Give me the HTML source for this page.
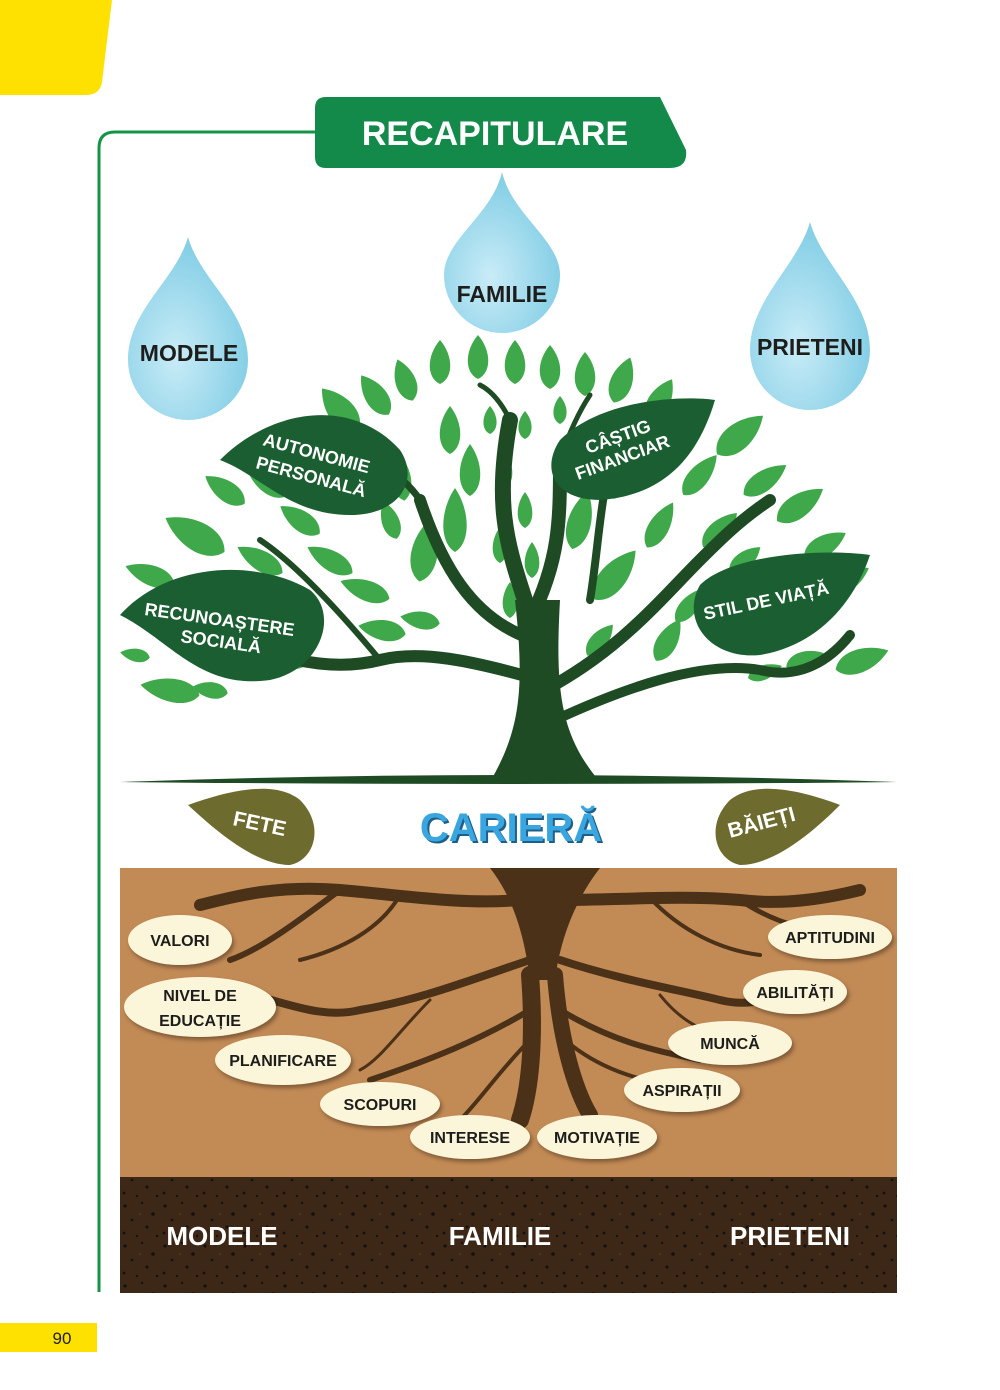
<!DOCTYPE html>
<html><head><meta charset="utf-8"><style>
html,body{margin:0;padding:0;background:#fff}
svg{display:block}
text{font-family:"Liberation Sans",sans-serif;font-weight:bold}
</style></head><body>
<svg width="1000" height="1390" viewBox="0 0 1000 1390" xmlns="http://www.w3.org/2000/svg">
<defs>
<path id="lf" d="M0,-1 C0.95,-0.3 1.0,0.7 0,1 C-1.0,0.7 -0.95,-0.3 0,-1Z"/>
<radialGradient id="drop" cx="0.4" cy="0.65" r="0.6">
<stop offset="0" stop-color="#c9ecf7"/><stop offset="1" stop-color="#86cfe6"/></radialGradient>
<pattern id="spk" width="40" height="40" patternUnits="userSpaceOnUse">
<rect width="40" height="40" fill="#3d2716"/>
<circle cx="5" cy="6" r="1.6" fill="#111"/><circle cx="22" cy="3" r="1.2" fill="#111"/><circle cx="33" cy="14" r="1.8" fill="#111"/>
<circle cx="12" cy="20" r="1.3" fill="#111"/><circle cx="27" cy="27" r="1.5" fill="#111"/><circle cx="4" cy="33" r="1.4" fill="#111"/>
<circle cx="17" cy="36" r="1.1" fill="#111"/><circle cx="37" cy="36" r="1.2" fill="#111"/><circle cx="20" cy="14" r="0.9" fill="#5a3c22"/>
</pattern>
<filter id="sh"><feDropShadow dx="2" dy="3" stdDeviation="2" flood-color="#000" flood-opacity="0.35"/></filter>
</defs>

<path d="M0,0 H112 L102,82 Q100,95 86,95 H0Z" fill="#ffe100"/>
<path d="M99,1292 V148 Q99,132 115,132 H320" fill="none" stroke="#159447" stroke-width="3"/>
<path d="M315,108 Q315,97 326,97 H660 L686,150 Q688,168 670,168 H326 Q315,168 315,157Z" fill="#138a4a"/>
<text x="495" y="145" font-size="34" fill="#fff" text-anchor="middle">RECAPITULARE</text>

<path d="M188,237 C200,280 248,310 248,360 A60,60 0 0 1 128,360 C128,310 176,280 188,237Z" fill="url(#drop)"/>
<path d="M502,172 C512,215 560,240 560,275 A58,58 0 0 1 444,275 C444,240 492,215 502,172Z" fill="url(#drop)"/>
<path d="M810,222 C822,265 870,300 870,350 A60,60 0 0 1 750,350 C750,300 798,265 810,222Z" fill="url(#drop)"/>
<text x="189" y="361" font-size="23" fill="#1d1d1b" text-anchor="middle">MODELE</text>
<text x="502" y="302" font-size="23" fill="#1d1d1b" text-anchor="middle">FAMILIE</text>
<text x="810" y="355" font-size="23" fill="#1d1d1b" text-anchor="middle">PRIETENI</text>

<g fill="#3ea84a">
<use href="#lf" transform="translate(440,362) scale(14,22)"/>
<use href="#lf" transform="translate(478,357) scale(14,22)"/>
<use href="#lf" transform="translate(515,362) scale(14,22)"/>
<use href="#lf" transform="translate(550,367) scale(14,22)"/>
<use href="#lf" transform="translate(585,374) scale(14,22)"/>
<use href="#lf" transform="translate(622,380) rotate(20) scale(15,24)"/>
<use href="#lf" transform="translate(405,380) rotate(-20) scale(14,22)"/>
<use href="#lf" transform="translate(375,395) rotate(-35) scale(15,24)"/>
<use href="#lf" transform="translate(340,410) rotate(-40) scale(18,28)"/>
<use href="#lf" transform="translate(660,400) rotate(30) scale(15,24)"/>
<use href="#lf" transform="translate(450,430) scale(14,24)"/>
<use href="#lf" transform="translate(470,470) scale(14,26)"/>
<use href="#lf" transform="translate(455,520) scale(16,32)"/>
<use href="#lf" transform="translate(425,550) rotate(10) scale(18,32)"/>
<use href="#lf" transform="translate(400,475) rotate(-10) scale(14,26)"/>
<use href="#lf" transform="translate(505,470) scale(10,18)"/>
<use href="#lf" transform="translate(525,510) scale(10,18)"/>
<use href="#lf" transform="translate(500,545) scale(10,18)"/>
<use href="#lf" transform="translate(532,560) scale(10,18)"/>
<use href="#lf" transform="translate(510,600) scale(10,18)"/>
<use href="#lf" transform="translate(527,632) scale(9,16)"/>
<use href="#lf" transform="translate(490,420) scale(9,14)"/>
<use href="#lf" transform="translate(525,425) scale(9,14)"/>
<use href="#lf" transform="translate(560,410) scale(9,14)"/>
<use href="#lf" transform="translate(580,520) rotate(15) scale(16,30)"/>
<use href="#lf" transform="translate(615,575) rotate(40) scale(18,32)"/>
<use href="#lf" transform="translate(660,525) rotate(30) scale(14,26)"/>
<use href="#lf" transform="translate(700,475) rotate(40) scale(14,26)"/>
<use href="#lf" transform="translate(740,435) rotate(50) scale(18,30)"/>
<use href="#lf" transform="translate(765,480) rotate(55) scale(14,26)"/>
<use href="#lf" transform="translate(800,505) rotate(55) scale(16,28)"/>
<use href="#lf" transform="translate(825,545) rotate(60) scale(14,24)"/>
<use href="#lf" transform="translate(848,580) rotate(60) scale(14,24)"/>
<use href="#lf" transform="translate(720,530) rotate(45) scale(14,24)"/>
<use href="#lf" transform="translate(745,560) rotate(50) scale(12,20)"/>
<use href="#lf" transform="translate(690,605) rotate(40) scale(12,22)"/>
<use href="#lf" transform="translate(668,640) rotate(30) scale(14,24)"/>
<use href="#lf" transform="translate(862,660) rotate(70) scale(16,28)"/>
<use href="#lf" transform="translate(805,660) rotate(70) scale(12,20)"/>
<use href="#lf" transform="translate(765,672) rotate(70) scale(10,18)"/>
<use href="#lf" transform="translate(265,480) rotate(-50) scale(14,26)"/>
<use href="#lf" transform="translate(225,490) rotate(-55) scale(14,24)"/>
<use href="#lf" transform="translate(195,535) rotate(-60) scale(20,34)"/>
<use href="#lf" transform="translate(260,560) rotate(-60) scale(14,26)"/>
<use href="#lf" transform="translate(300,520) rotate(-55) scale(14,24)"/>
<use href="#lf" transform="translate(330,560) rotate(-60) scale(14,26)"/>
<use href="#lf" transform="translate(365,590) rotate(-70) scale(14,26)"/>
<use href="#lf" transform="translate(382,630) rotate(-80) scale(14,24)"/>
<use href="#lf" transform="translate(420,620) rotate(-80) scale(12,20)"/>
<use href="#lf" transform="translate(150,575) rotate(-70) scale(14,26)"/>
<use href="#lf" transform="translate(135,655) rotate(-80) scale(9,15)"/>
<use href="#lf" transform="translate(170,690) rotate(-80) scale(16,30)"/>
<use href="#lf" transform="translate(210,690) rotate(-80) scale(11,18)"/>
<use href="#lf" transform="translate(290,660) rotate(-80) scale(11,18)"/>
<use href="#lf" transform="translate(340,475) rotate(-30) scale(12,20)"/>
<use href="#lf" transform="translate(620,480) rotate(20) scale(12,20)"/>
<use href="#lf" transform="translate(640,430) rotate(20) scale(12,20)"/>
<use href="#lf" transform="translate(390,520) rotate(-20) scale(12,20)"/>
<use href="#lf" transform="translate(600,640) rotate(40) scale(12,20)"/>
</g>

<g fill="none" stroke="#1e4a24" stroke-linecap="round">
<path d="M525,600 C505,540 495,500 510,420" stroke-width="16"/>
<path d="M530,620 C560,560 560,520 560,460" stroke-width="14"/>
<path d="M535,640 C470,620 440,560 420,500" stroke-width="12"/>
<path d="M540,680 C470,660 420,650 380,660 C320,675 260,650 240,640" stroke-width="12"/>
<path d="M545,690 C620,650 660,600 700,560 C720,540 740,520 770,500" stroke-width="12"/>
<path d="M555,720 C620,690 700,660 760,670 C800,680 830,660 850,635" stroke-width="10"/>
<path d="M420,500 C400,470 360,450 320,430" stroke-width="7"/>
<path d="M590,600 C600,540 600,480 620,440" stroke-width="8"/>
<path d="M380,660 C330,600 290,560 260,540" stroke-width="6"/>
<path d="M510,420 C500,400 490,390 480,385" stroke-width="5"/>
<path d="M560,460 C570,430 580,410 590,395" stroke-width="5"/>
</g>
<path d="M490,782 C520,730 525,690 515,600 L560,600 C555,690 560,735 600,782Z" fill="#1e4a24"/>
<path d="M120,782 Q510,768 897,782 Q510,786 120,782Z" fill="#1e4a24"/>

<g fill="#1b5e31">
<path d="M220,460 C270,410 350,395 400,450 C420,480 400,515 350,515 C290,515 260,475 220,460Z"/>
<path d="M715,400 C680,395 600,400 560,440 C540,470 555,500 600,500 C670,495 700,450 715,400Z"/>
<path d="M120,615 C170,560 260,560 310,590 C340,615 320,670 270,680 C200,690 170,640 120,615Z"/>
<path d="M870,555 C820,548 730,555 700,585 C680,620 710,660 760,655 C820,645 855,600 870,555Z"/>
</g>
<g fill="#fff" font-size="18">
<text transform="translate(262,445) rotate(15)">AUTONOMIE</text>
<text transform="translate(255,468) rotate(15)">PERSONALĂ</text>
<text transform="translate(588,454) rotate(-20)">CÂȘTIG</text>
<text transform="translate(578,480) rotate(-20)">FINANCIAR</text>
<text transform="translate(144,615) rotate(8)">RECUNOAȘTERE</text>
<text transform="translate(180,642) rotate(8)">SOCIALĂ</text>
<text transform="translate(705,620) rotate(-12)">STIL DE VIAȚĂ</text>
</g>

<path d="M188,805 C230,790 275,780 300,800 C325,825 315,860 290,865 C255,865 215,830 188,805Z" fill="#6d6b2e"/>
<path d="M840,805 C800,790 755,780 730,800 C705,825 715,860 740,865 C775,865 815,830 840,805Z" fill="#6d6b2e"/>
<text transform="translate(232,825) rotate(12)" font-size="21" fill="#fff">FETE</text>
<text transform="translate(730,838) rotate(-15)" font-size="21" fill="#fff">BĂIEȚI</text>
<text x="513" y="843" font-size="40" fill="#1e5f8a" text-anchor="middle">CARIERĂ</text>
<text x="511" y="841" font-size="40" fill="#3aa6e0" text-anchor="middle">CARIERĂ</text>

<rect x="120" y="868" width="777" height="310" fill="#c28a55"/>
<rect x="120" y="1177" width="777" height="116" fill="url(#spk)"/>

<path d="M490,868 L600,868 C575,900 560,940 555,980 L530,980 C525,940 515,900 490,868Z" fill="#4a3117"/>
<g fill="none" stroke="#4a3117" stroke-linecap="round">
<path d="M530,975 C535,1040 530,1090 520,1120" stroke-width="18"/>
<path d="M555,975 C560,1040 575,1090 590,1115" stroke-width="16"/>
<path d="M520,900 C460,905 400,895 340,890 C280,885 240,895 200,905" stroke-width="12"/>
<path d="M560,900 C620,900 680,895 740,900 C780,905 820,900 860,890" stroke-width="12"/>
<path d="M340,890 C300,920 260,950 230,960" stroke-width="6"/>
<path d="M530,960 C470,980 420,1000 360,1010 C320,1020 280,1000 250,995" stroke-width="8"/>
<path d="M560,960 C620,980 680,990 720,1000 C760,1010 790,990 800,980" stroke-width="8"/>
<path d="M740,900 C770,920 800,930 830,930" stroke-width="5"/>
<path d="M530,1010 C480,1040 430,1060 370,1080" stroke-width="6"/>
<path d="M560,1010 C610,1040 650,1050 700,1060" stroke-width="6"/>
<path d="M530,1040 C500,1070 480,1100 460,1120" stroke-width="4"/>
<path d="M565,1040 C600,1070 640,1080 670,1085" stroke-width="4"/>
<path d="M430,1000 C400,1030 380,1060 360,1070" stroke-width="3"/>
<path d="M660,995 C680,1020 700,1030 720,1035" stroke-width="3"/>
<path d="M400,895 C380,930 340,950 300,960" stroke-width="4"/>
<path d="M650,898 C680,930 720,950 760,955" stroke-width="4"/>
</g>

<g fill="#fbf6d9" filter="url(#sh)">
<ellipse cx="180" cy="940" rx="52" ry="25"/>
<ellipse cx="200" cy="1007" rx="76" ry="30"/>
<ellipse cx="283" cy="1060" rx="68" ry="25"/>
<ellipse cx="380" cy="1104" rx="60" ry="22"/>
<ellipse cx="470" cy="1137" rx="60" ry="22"/>
<ellipse cx="597" cy="1137" rx="60" ry="22"/>
<ellipse cx="682" cy="1090" rx="58" ry="22"/>
<ellipse cx="730" cy="1043" rx="62" ry="22"/>
<ellipse cx="795" cy="992" rx="52" ry="22"/>
<ellipse cx="830" cy="937" rx="62" ry="22"/>
</g>
<g fill="#1d1d1b" font-size="16" text-anchor="middle">
<text x="180" y="946">VALORI</text>
<text x="200" y="1001">NIVEL DE</text>
<text x="200" y="1026">EDUCAȚIE</text>
<text x="283" y="1066">PLANIFICARE</text>
<text x="380" y="1110">SCOPURI</text>
<text x="470" y="1143">INTERESE</text>
<text x="597" y="1143">MOTIVAȚIE</text>
<text x="682" y="1096">ASPIRAȚII</text>
<text x="730" y="1049">MUNCĂ</text>
<text x="795" y="998">ABILITĂȚI</text>
<text x="830" y="943">APTITUDINI</text>
</g>

<g fill="#fff" font-size="26" text-anchor="middle">
<text x="222" y="1245">MODELE</text>
<text x="500" y="1245">FAMILIE</text>
<text x="790" y="1245">PRIETENI</text>
</g>

<rect x="0" y="1323" width="97" height="29" fill="#ffe100"/>
<text x="62" y="1344" font-size="17" fill="#1d1d1b" text-anchor="middle" style="font-weight:normal">90</text>
</svg>
</body></html>
